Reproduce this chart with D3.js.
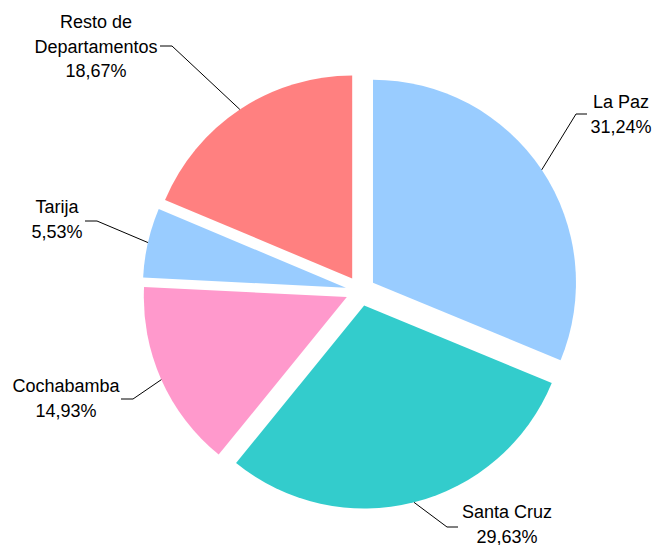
<!DOCTYPE html>
<html>
<head>
<meta charset="utf-8">
<script src="https://cdn.jsdelivr.net/npm/d3@7"></script>
<style>
  body { margin: 0; background: #fff; }
  svg { display: block; }
  text { font-family: "Liberation Sans", Arial, sans-serif; font-size: 18px; fill: #000; }
</style>
</head>
<body>
<div class="container"></div>
<script>
// slices, clockwise from 12 o'clock
const departments = ['La Paz', 'Santa Cruz', 'Cochabamba', 'Tarija', 'Resto de Departamentos'];
const shares = [31.24, 29.63, 14.93, 5.53, 18.67];
// label text broken into lines, as in the picture
const labelLines = [['La Paz'], ['Santa Cruz'], ['Cochabamba'], ['Tarija'], ['Resto de', 'Departamentos']];

const sliceColors = ['#99ccff', '#33cccc', '#ff99cc', '#99ccff', '#ff8080'];

// label placement (text centre x, first baseline y, elbow of leader line, side)
const labelLayout = [
  { tx: 621, ty: 108, ex: 576, ey: 114, side: 'right' },
  { tx: 507, ty: 518, ex: 447, ey: 527, side: 'right' },
  { tx: 66, ty: 392, ex: 133, ey: 399, side: 'left' },
  { tx: 57, ty: 213, ex: 97, ey: 221, side: 'left' },
  { tx: 96, ty: 28, ex: 172, ey: 46, side: 'left' }
];

const width = 654;
const height = 545;
const center = { x: 360.5, y: 291 };
const radius = 203;
const explode = 15;
const lineHeight = 24.5;

const locale = d3.formatLocale({ decimal: ',', thousands: '.', grouping: [3], currency: ['', ''] });
const pct = locale.format('.2f');

const svg = d3.select('.container')
  .append('svg')
  .attr('width', width)
  .attr('height', height);

const pie = d3.pie()
  .sort(null)
  .value(d => d);

const arc = d3.arc()
  .innerRadius(0)
  .outerRadius(radius);

const slices = pie(shares).map((d, i) => {
  const mid = (d.startAngle + d.endAngle) / 2;
  return {
    arc: d,
    i,
    mid,
    dx: Math.sin(mid) * explode,
    dy: -Math.cos(mid) * explode
  };
});

const g = svg.append('g')
  .attr('transform', `translate(${center.x}, ${center.y})`);

g.selectAll('path.slice')
  .data(slices)
  .enter()
  .append('path')
  .attr('class', 'slice')
  .attr('transform', d => `translate(${d.dx}, ${d.dy})`)
  .attr('d', d => arc(d.arc))
  .attr('fill', d => sliceColors[d.i]);

// leader lines: from slice edge at the mid angle to the elbow, then a short horizontal run
const leaders = svg.append('g');

slices.forEach((s) => {
  const lay = labelLayout[s.i];
  const sx = center.x + s.dx + Math.sin(s.mid) * radius;
  const sy = center.y + s.dy - Math.cos(s.mid) * radius;
  const hx = lay.side === 'right' ? lay.ex + 11 : lay.ex - 12;
  leaders.append('polyline')
    .attr('points', `${sx},${sy} ${lay.ex},${lay.ey} ${hx},${lay.ey}`)
    .attr('fill', 'none')
    .attr('stroke', '#000')
    .attr('stroke-width', 1);
});

const labels = svg.append('g');

slices.forEach((s) => {
  const lay = labelLayout[s.i];
  const lines = labelLines[s.i].concat([`${pct(shares[s.i])}%`]);
  const text = labels.append('text')
    .attr('text-anchor', 'middle');
  lines.forEach((line, k) => {
    text.append('tspan')
      .attr('x', lay.tx)
      .attr('y', lay.ty + k * lineHeight)
      .text(line);
  });
});
</script>
</body>
</html>
